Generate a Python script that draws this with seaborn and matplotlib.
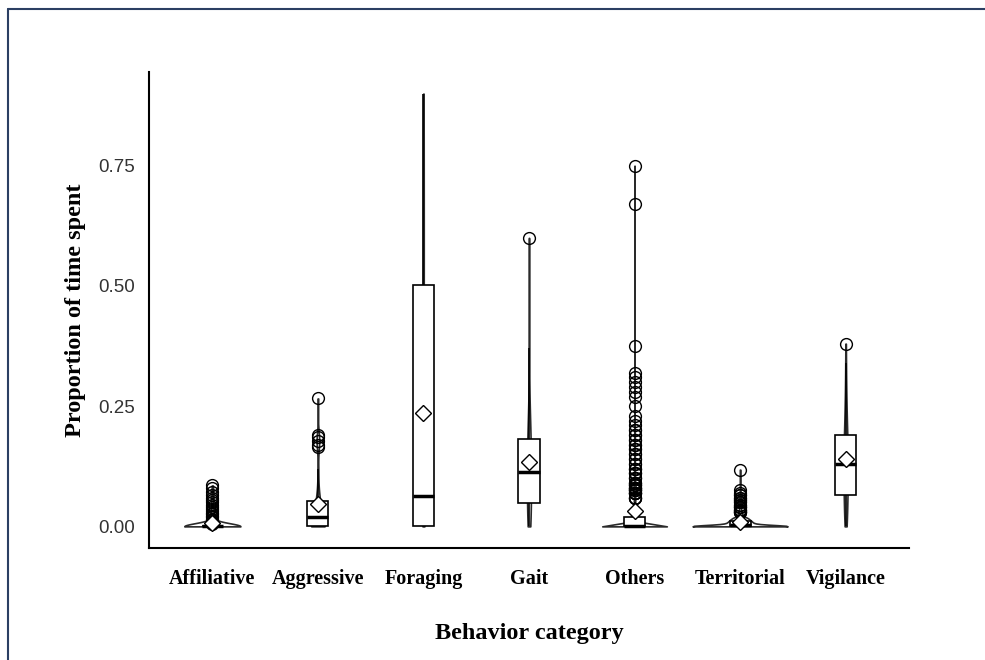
import numpy as np
import pandas as pd
import seaborn as sns
import matplotlib.pyplot as plt
from matplotlib.lines import Line2D

# ---------------- data ----------------
categories = ["Affiliative", "Aggressive", "Foraging", "Gait",
              "Others", "Territorial", "Vigilance"]

# zero-heavy groups as value / count tables
affiliative_vals = [0.0, 0.005, 0.008, 0.01, 0.013, 0.016, 0.019, 0.022, 0.025, 0.028,
                    0.032, 0.036, 0.04, 0.045, 0.05, 0.055, 0.06, 0.065, 0.072, 0.08, 0.085]
affiliative_counts = [90, 1, 1, 1, 1, 1, 1, 1, 1, 1,
                      1, 1, 1, 1, 1, 1, 1, 1, 1, 1, 1]

others_vals = [0.0, 0.005, 0.01, 0.015, 0.02, 0.025, 0.03, 0.04, 0.05, 0.06,
               0.07, 0.075, 0.08, 0.085, 0.09, 0.1, 0.11, 0.12,
               0.13, 0.14, 0.15, 0.16, 0.17, 0.18, 0.19, 0.2,
               0.21, 0.22, 0.23, 0.25, 0.27, 0.28, 0.29, 0.3, 0.31, 0.32, 0.375, 0.67, 0.75]
others_counts = [220, 20, 16, 13, 12, 10, 8, 6, 5, 4,
                 5, 4, 4, 3, 3, 3, 3, 3,
                 2, 2, 2, 2, 2, 2, 2, 2,
                 1, 1, 1, 1, 1, 1, 1, 1, 1, 1, 1, 1, 1]

territorial_vals = [0.0, 0.002, 0.004, 0.006, 0.008, 0.01, 0.012, 0.014, 0.016, 0.018,
                    0.02, 0.025, 0.03, 0.035, 0.04, 0.045, 0.05, 0.055, 0.06, 0.065,
                    0.07, 0.075, 0.118]
territorial_counts = [150, 20, 20, 15, 15, 15, 12, 12, 10, 8,
                      8, 6, 4, 3, 3, 2, 2, 2, 2, 2,
                      1, 1, 1]

# the other groups as plain observations
aggressive = [0, 0, 0, 0, 0, 0, 0, 0, 0, 0, 0, 0, 0, 0, 0,
              0.005, 0.008, 0.01, 0.012, 0.015, 0.018, 0.02, 0.02, 0.022, 0.025, 0.028,
              0.03, 0.035, 0.04, 0.045, 0.05, 0.055, 0.06, 0.07, 0.09, 0.12,
              0.165, 0.17, 0.178, 0.185, 0.19, 0.266]
foraging = [0, 0, 0, 0, 0, 0, 0, 0, 0,
            0.01, 0.02, 0.03, 0.04, 0.05, 0.055, 0.06, 0.065, 0.07, 0.09, 0.12,
            0.2, 0.3, 0.4, 0.5, 0.51, 0.55, 0.6, 0.65, 0.7, 0.8, 0.85, 0.9]
gait = [0, 0, 0, 0.005, 0.01, 0.02, 0.03, 0.035, 0.04, 0.045, 0.05, 0.06, 0.07, 0.08,
        0.09, 0.095, 0.1, 0.105, 0.105, 0.11, 0.115, 0.12, 0.125, 0.13, 0.14, 0.15,
        0.16, 0.17, 0.18, 0.18, 0.19, 0.2, 0.2, 0.21, 0.22, 0.24, 0.27, 0.3, 0.37, 0.6]
vigilance = [0, 0.005, 0.01, 0.02, 0.03, 0.04, 0.045, 0.05, 0.06, 0.065, 0.065, 0.08,
             0.09, 0.1, 0.105, 0.11, 0.115, 0.12, 0.125, 0.128, 0.13, 0.135, 0.14, 0.145,
             0.15, 0.16, 0.17, 0.18, 0.185, 0.19, 0.19, 0.21, 0.22, 0.23, 0.24, 0.26,
             0.28, 0.3, 0.34, 0.38]

yticks = [0.0, 0.25, 0.5, 0.75]
ytick_labels = ["0.00", "0.25", "0.50", "0.75"]

groups = {
    "Affiliative": np.repeat(affiliative_vals, affiliative_counts),
    "Aggressive": aggressive,
    "Foraging": foraging,
    "Gait": gait,
    "Others": np.repeat(others_vals, others_counts),
    "Territorial": np.repeat(territorial_vals, territorial_counts),
    "Vigilance": vigilance,
}
df = pd.concat([pd.DataFrame({"category": k, "prop": v}) for k, v in groups.items()],
               ignore_index=True)


# R's bw.nrd0 bandwidth, as a factor for gaussian_kde
def nrd0(kde):
    x = np.asarray(kde.dataset).ravel()
    sd = np.std(x, ddof=1)
    q75, q25 = np.percentile(x, [75, 25])
    lo = min(sd, (q75 - q25) / 1.34)
    if lo == 0:
        lo = sd
    return 0.9 * lo * len(x) ** -0.2 / sd


sns.set_style("white")
serif = "Liberation Serif"
sans = "Liberation Sans"

fig = plt.figure(figsize=(9.85, 6.6), dpi=100)
ax = fig.add_axes([0.1513, 0.1697, 0.7715, 0.7212])

sns.violinplot(data=df, x="category", y="prop", order=categories, cut=0, inner=None,
               density_norm="area", width=0.9, bw_method=nrd0,
               color="white", linecolor="#2a2a2a", linewidth=1.2, ax=ax)
sns.boxplot(data=df, x="category", y="prop", order=categories, width=0.2,
            color="white", linecolor="black", linewidth=1.2, showcaps=False,
            showmeans=True,
            meanprops=dict(marker="D", markerfacecolor="white",
                           markeredgecolor="black", markersize=8),
            flierprops=dict(marker="o", markerfacecolor="none",
                            markeredgecolor="black", markersize=8.5),
            medianprops=dict(linewidth=2.5), ax=ax)

ax.set_xlim(-0.6, 6.6)
ax.set_ylim(-0.045, 0.945)
ax.set_xticks(range(len(categories)))
ax.set_xticklabels(categories, fontfamily=serif, fontweight="bold", fontsize=14.5,
                   color="black")
ax.set_yticks(yticks)
ax.set_yticklabels(ytick_labels, fontfamily=sans, fontsize=13.5, color="#333333")
ax.tick_params(axis="y", length=3, width=1, color="#333333", pad=7)
ax.tick_params(axis="x", length=3, width=1, color="#333333", pad=12)

for s in ["top", "right"]:
    ax.spines[s].set_visible(False)
for s in ["left", "bottom"]:
    ax.spines[s].set_color("black")
    ax.spines[s].set_linewidth(1.5)

ax.set_xlabel("Behavior category", fontfamily=serif, fontweight="bold", fontsize=17.5,
              color="black")
ax.set_ylabel("Proportion of time spent", fontfamily=serif, fontweight="bold",
              fontsize=17.5, color="black")
ax.xaxis.set_label_coords(0.5, -0.158)
ax.yaxis.set_label_coords(-0.083, 0.5)

# frame line along the top and left edge of the picture
fig.add_artist(Line2D([8 / 985, 1], [1 - 9 / 660, 1 - 9 / 660],
                      transform=fig.transFigure, color="#2b3f63", lw=1.5))
fig.add_artist(Line2D([8 / 985, 8 / 985], [0, 1 - 9 / 660],
                      transform=fig.transFigure, color="#2b3f63", lw=1.5))

fig.savefig("out.png", dpi=100)
